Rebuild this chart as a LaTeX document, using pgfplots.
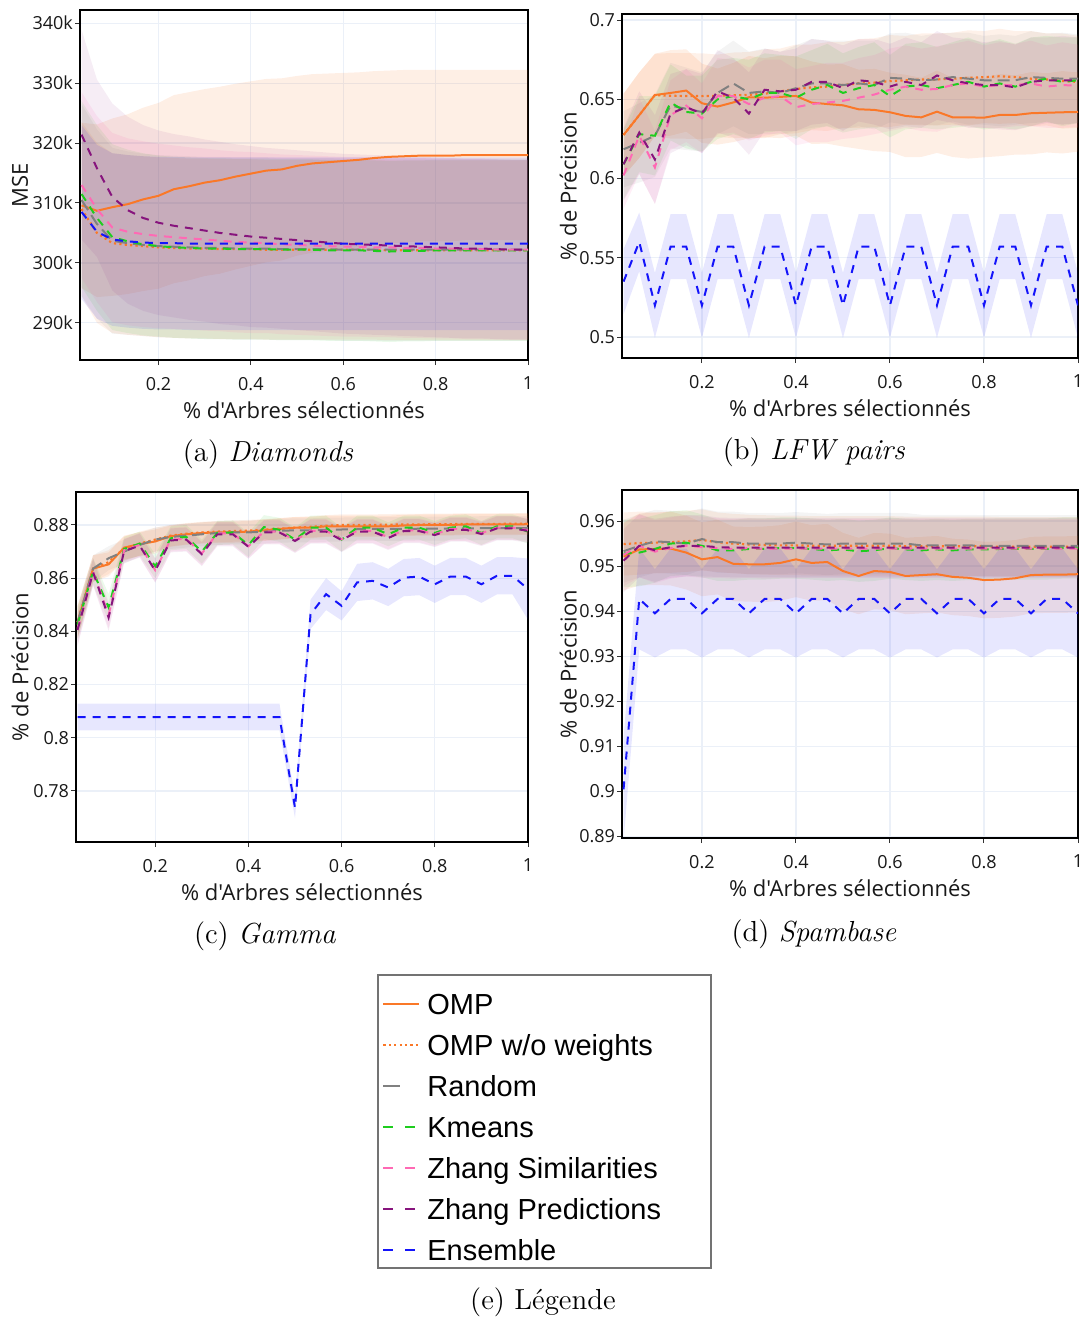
\documentclass[border=0pt]{standalone}
\usepackage{fontspec}
\usepackage{pgfplots}
\usepackage{pgfplotstable}
\pgfplotsset{compat=1.18}
\usepgfplotslibrary{fillbetween}
\newfontfamily\osans{Open Sans}
\newfontfamily\lsans{Liberation Sans}

\definecolor{cOmp}{RGB}{250,120,40}
\definecolor{cRnd}{RGB}{128,128,128}
\definecolor{cKm}{RGB}{30,205,30}
\definecolor{cZs}{RGB}{255,105,180}
\definecolor{cZp}{RGB}{135,20,125}
\definecolor{cEns}{RGB}{20,20,250}
\definecolor{gridc}{RGB}{235,240,248}

% Diamonds (MSE, en milliers)
\pgfplotstableread{
x omp somp ompw sompw rnd srnd km skm zs szs zp szp ens sens
0.0333 309.6 13.8 309.0 14.5 310.5 16.0 311.5 15.5 313.0 15.5 321.4 17.5 308.5 14.5
0.0667 308.7 14.4 305.0 15.0 306.5 15.8 307.5 15.5 309.0 15.5 315.8 14.8 305.2 14.5
0.1    309.3 14.8 303.3 15.0 303.7 15.5 304.3 15.5 305.9 15.8 311.0 15.6 303.9 14.4
0.1333 309.8 15.0 303.0 15.0 303.3 15.3 303.6 15.3 305.2 15.6 308.8 15.6 303.6 14.4
0.1667 310.6 15.3 302.8 15.0 303.0 15.2 303.1 15.2 304.8 15.5 307.5 15.5 303.4 14.4
0.2    311.2 15.5 302.6 15.0 302.8 15.2 302.8 15.1 304.5 15.4 306.7 15.4 303.3 14.4
0.2333 312.3 15.7 302.5 15.0 302.7 15.2 302.6 15.1 304.3 15.3 306.2 15.3 303.3 14.4
0.2667 312.8 15.7 302.4 15.0 302.6 15.2 302.5 15.1 304.1 15.2 305.8 15.3 303.2 14.4
0.3    313.4 15.6 302.4 15.0 302.5 15.2 302.4 15.1 303.9 15.2 305.4 15.2 303.2 14.4
0.3333 313.8 15.6 302.3 15.0 302.5 15.2 302.4 15.1 303.7 15.1 305.0 15.2 303.2 14.4
0.3667 314.4 15.5 302.3 15.0 302.4 15.2 302.3 15.1 303.5 15.1 304.7 15.1 303.2 14.4
0.4    314.9 15.4 302.3 15.0 302.4 15.2 302.3 15.1 303.4 15.1 304.4 15.1 303.2 14.4
0.4333 315.4 15.3 302.2 15.0 302.4 15.2 302.3 15.1 303.3 15.0 304.2 15.0 303.2 14.4
0.4667 315.6 15.2 302.2 15.0 302.3 15.2 302.2 15.1 303.1 15.0 304.0 15.0 303.2 14.4
0.5    316.2 15.0 302.2 15.0 302.3 15.2 302.2 15.1 303.0 15.0 303.8 15.0 303.2 14.4
0.5333 316.6 14.9 302.2 15.0 302.3 15.2 302.2 15.1 302.9 15.0 303.6 15.0 303.2 14.4
0.5667 316.8 14.8 302.2 15.0 302.3 15.2 302.1 15.1 302.8 15.0 303.4 15.0 303.2 14.4
0.6    317.0 14.7 302.2 15.0 302.2 15.2 302.1 15.1 302.7 15.0 303.2 15.0 303.2 14.4
0.6333 317.2 14.6 302.2 15.0 302.2 15.2 302.1 15.1 302.7 15.0 303.1 15.0 303.2 14.4
0.6667 317.5 14.5 302.2 15.0 302.2 15.2 302.0 15.1 302.6 15.0 303.0 15.0 303.2 14.4
0.7    317.7 14.4 302.1 15.0 302.2 15.2 301.9 15.1 302.6 15.0 302.9 15.0 303.2 14.4
0.7333 317.8 14.4 302.1 15.0 302.2 15.2 302.0 15.1 302.5 15.0 302.8 15.0 303.2 14.4
0.7667 317.9 14.3 302.1 15.0 302.2 15.2 302.0 15.1 302.5 15.0 302.7 15.0 303.2 14.4
0.8    317.9 14.3 302.1 15.0 302.2 15.2 302.1 15.1 302.4 15.0 302.6 15.0 303.2 14.4
0.8333 317.9 14.3 302.1 15.0 302.2 15.2 302.1 15.1 302.4 15.0 302.5 15.0 303.2 14.4
0.8667 318.0 14.2 302.1 15.0 302.2 15.2 302.1 15.1 302.3 15.0 302.4 15.0 303.2 14.4
0.9    318.0 14.2 302.1 15.0 302.2 15.2 302.1 15.1 302.3 15.0 302.4 15.0 303.2 14.4
0.9333 318.0 14.2 302.1 15.0 302.2 15.2 302.1 15.1 302.2 15.0 302.3 15.0 303.2 14.4
0.9667 318.0 14.2 302.1 15.0 302.2 15.2 302.1 15.1 302.2 15.0 302.2 15.0 303.2 14.4
1.0    318.0 14.2 302.1 15.0 302.2 15.2 302.1 15.1 302.2 15.0 302.2 15.0 303.2 14.4
}\tabA

% LFW pairs
\pgfplotstableread{
x omp somp ompw sompw rnd srnd km skm zs szs zp szp ens sens
0.0333 0.6275 0.026 0.6275 0.026 0.6185 0.024 0.6090 0.022 0.6020 0.021 0.6090 0.023 0.535 0.0205
0.0667 0.6400 0.027 0.6400 0.027 0.6225 0.025 0.6280 0.024 0.6270 0.024 0.6290 0.026 0.560 0.0185
0.1    0.6527 0.026 0.6527 0.026 0.6270 0.026 0.6270 0.025 0.6070 0.023 0.6120 0.028 0.520 0.0205
0.1333 0.6540 0.027 0.6522 0.027 0.6460 0.027 0.6480 0.024 0.6400 0.022 0.6410 0.025 0.557 0.0205
0.1667 0.6555 0.026 0.6521 0.027 0.6440 0.026 0.6420 0.023 0.6460 0.023 0.6450 0.024 0.557 0.0205
0.2    0.6475 0.025 0.6520 0.027 0.6420 0.025 0.6410 0.024 0.6380 0.022 0.6410 0.025 0.520 0.0205
0.2333 0.6454 0.024 0.6522 0.026 0.6540 0.026 0.6500 0.025 0.6520 0.024 0.6550 0.026 0.557 0.0205
0.2667 0.6480 0.025 0.6525 0.027 0.6600 0.027 0.6520 0.024 0.6520 0.023 0.6510 0.025 0.557 0.0205
0.3    0.6513 0.026 0.6528 0.027 0.6540 0.026 0.6500 0.025 0.6470 0.023 0.6410 0.026 0.520 0.0205
0.3333 0.6510 0.025 0.6535 0.028 0.6550 0.027 0.6540 0.025 0.6510 0.024 0.6560 0.026 0.557 0.0205
0.3667 0.6515 0.026 0.6550 0.027 0.6540 0.026 0.6540 0.024 0.6520 0.023 0.6550 0.025 0.557 0.0205
0.4    0.6521 0.025 0.6565 0.028 0.6570 0.027 0.6510 0.026 0.6450 0.024 0.6560 0.026 0.520 0.0205
0.4333 0.6479 0.026 0.6575 0.027 0.6600 0.028 0.6560 0.025 0.6470 0.024 0.6610 0.027 0.557 0.0205
0.4667 0.6470 0.025 0.6580 0.028 0.6600 0.027 0.6590 0.026 0.6480 0.025 0.6610 0.026 0.557 0.0205
0.5    0.6462 0.026 0.6590 0.027 0.6590 0.028 0.6540 0.025 0.6490 0.024 0.6570 0.027 0.520 0.0205
0.5333 0.6437 0.025 0.6600 0.028 0.6600 0.027 0.6570 0.026 0.6510 0.025 0.6620 0.026 0.557 0.0205
0.5667 0.6433 0.026 0.6605 0.028 0.6590 0.028 0.6590 0.027 0.6530 0.025 0.6610 0.027 0.557 0.0205
0.6    0.6418 0.025 0.6615 0.029 0.6635 0.028 0.6520 0.026 0.6560 0.026 0.6580 0.027 0.520 0.0205
0.6333 0.6395 0.026 0.6620 0.028 0.6630 0.029 0.6580 0.027 0.6580 0.026 0.6610 0.028 0.557 0.0205
0.6667 0.6386 0.025 0.6625 0.029 0.6620 0.028 0.6590 0.027 0.6560 0.026 0.6590 0.027 0.557 0.0205
0.7    0.6422 0.026 0.6625 0.029 0.6625 0.029 0.6570 0.026 0.6565 0.027 0.6650 0.028 0.520 0.0205
0.7333 0.6386 0.025 0.6630 0.029 0.6640 0.028 0.6590 0.027 0.6590 0.026 0.6620 0.027 0.557 0.0205
0.7667 0.6386 0.026 0.6635 0.030 0.6630 0.029 0.6610 0.028 0.6600 0.027 0.6600 0.028 0.557 0.0205
0.8    0.6384 0.025 0.6640 0.029 0.6620 0.028 0.6580 0.027 0.6580 0.026 0.6590 0.027 0.520 0.0205
0.8333 0.6401 0.026 0.6645 0.030 0.6620 0.029 0.6600 0.028 0.6590 0.027 0.6590 0.028 0.557 0.0205
0.8667 0.6401 0.025 0.6640 0.029 0.6620 0.028 0.6580 0.027 0.6590 0.026 0.6575 0.027 0.557 0.0205
0.9    0.6412 0.026 0.6630 0.030 0.6640 0.029 0.6610 0.028 0.6600 0.027 0.6610 0.028 0.520 0.0205
0.9333 0.6415 0.025 0.6625 0.029 0.6635 0.028 0.6630 0.027 0.6580 0.026 0.6620 0.027 0.557 0.0205
0.9667 0.6418 0.026 0.6615 0.030 0.6630 0.029 0.6610 0.028 0.6590 0.027 0.6620 0.028 0.557 0.0205
1.0    0.6420 0.025 0.6610 0.029 0.6630 0.028 0.6620 0.027 0.6585 0.026 0.6620 0.027 0.520 0.0205
}\tabB

% Gamma
\pgfplotstableread{
x omp somp ompw sompw rnd srnd km skm zs szs zp szp ens sens
0.0333 0.8434 0.006 0.8434 0.006 0.8434 0.006 0.8425 0.006 0.8410 0.006 0.8405 0.006 0.8078 0.005
0.0667 0.8636 0.005 0.8636 0.005 0.8636 0.005 0.8625 0.005 0.8625 0.005 0.8622 0.005 0.8078 0.005
0.1    0.8652 0.0045 0.8660 0.0045 0.8675 0.0045 0.8490 0.005 0.8462 0.005 0.8452 0.005 0.8078 0.005
0.1333 0.8715 0.0045 0.8712 0.0045 0.8700 0.0045 0.8710 0.0045 0.8705 0.0045 0.8702 0.0045 0.8078 0.005
0.1667 0.8728 0.0045 0.8730 0.0045 0.8725 0.0045 0.8730 0.0045 0.8725 0.0045 0.8722 0.0045 0.8078 0.005
0.2    0.8738 0.0045 0.8745 0.0045 0.8745 0.0045 0.8645 0.0045 0.8630 0.0045 0.8628 0.0045 0.8078 0.005
0.2333 0.8758 0.004 0.8760 0.004 0.8755 0.0045 0.8750 0.0045 0.8745 0.0045 0.8742 0.0045 0.8078 0.005
0.2667 0.8765 0.004 0.8767 0.004 0.8760 0.0045 0.8755 0.0045 0.8748 0.0045 0.8745 0.0045 0.8078 0.005
0.3    0.8770 0.004 0.8772 0.004 0.8765 0.0045 0.8700 0.0045 0.8693 0.0045 0.8690 0.0045 0.8078 0.005
0.3333 0.8772 0.004 0.8775 0.004 0.8770 0.0045 0.8770 0.0045 0.8768 0.0045 0.8765 0.0045 0.8078 0.005
0.3667 0.8773 0.004 0.8777 0.004 0.8772 0.0045 0.8772 0.0045 0.8768 0.0045 0.8765 0.0045 0.8078 0.005
0.4    0.8775 0.004 0.8779 0.004 0.8772 0.0045 0.8725 0.0045 0.8720 0.0045 0.8718 0.0045 0.8078 0.005
0.4333 0.8780 0.004 0.8782 0.004 0.8775 0.0045 0.8792 0.0045 0.8775 0.0045 0.8772 0.0045 0.8078 0.005
0.4667 0.8785 0.004 0.8786 0.004 0.8778 0.0045 0.8782 0.0045 0.8775 0.0045 0.8772 0.0045 0.8078 0.005
0.5    0.8790 0.004 0.8790 0.004 0.8780 0.0045 0.8745 0.0045 0.8742 0.0045 0.8740 0.0045 0.7737 0.004
0.5333 0.8790 0.004 0.8793 0.004 0.8780 0.0045 0.8790 0.0045 0.8778 0.0045 0.8775 0.0045 0.8464 0.0055
0.5667 0.8795 0.004 0.8797 0.004 0.8782 0.0045 0.8790 0.0045 0.8778 0.0045 0.8775 0.0045 0.8540 0.006
0.6    0.8795 0.004 0.8800 0.004 0.8783 0.0045 0.8745 0.0045 0.8746 0.0045 0.8743 0.0045 0.8496 0.0055
0.6333 0.8795 0.004 0.8800 0.004 0.8784 0.0045 0.8790 0.0045 0.8778 0.0045 0.8775 0.0045 0.8584 0.007
0.6667 0.8795 0.004 0.8800 0.004 0.8785 0.0045 0.8790 0.0045 0.8778 0.0045 0.8775 0.0045 0.8590 0.007
0.7    0.8795 0.004 0.8801 0.004 0.8785 0.0045 0.8765 0.0045 0.8754 0.0045 0.8751 0.0045 0.8565 0.007
0.7333 0.8798 0.004 0.8802 0.004 0.8785 0.0045 0.8790 0.0045 0.8780 0.0045 0.8777 0.0045 0.8602 0.007
0.7667 0.8800 0.004 0.8802 0.004 0.8786 0.0045 0.8790 0.0045 0.8780 0.0045 0.8777 0.0045 0.8606 0.007
0.8    0.8800 0.004 0.8803 0.004 0.8786 0.0045 0.8770 0.0045 0.8765 0.0045 0.8762 0.0045 0.8577 0.007
0.8333 0.8800 0.004 0.8803 0.004 0.8787 0.0045 0.8790 0.0045 0.8785 0.0045 0.8782 0.0045 0.8606 0.007
0.8667 0.8802 0.004 0.8804 0.004 0.8787 0.0045 0.8795 0.0045 0.8785 0.0045 0.8782 0.0045 0.8606 0.007
0.9    0.8802 0.004 0.8804 0.004 0.8788 0.0045 0.8770 0.0045 0.8769 0.0045 0.8766 0.0045 0.8577 0.007
0.9333 0.8802 0.004 0.8804 0.004 0.8788 0.0045 0.8795 0.0045 0.8790 0.0045 0.8787 0.0045 0.8609 0.007
0.9667 0.8802 0.004 0.8805 0.004 0.8788 0.0045 0.8795 0.0045 0.8790 0.0045 0.8787 0.0045 0.8609 0.007
1.0    0.8803 0.004 0.8805 0.004 0.8788 0.0045 0.8775 0.0045 0.8781 0.0045 0.8778 0.0045 0.8559 0.0115
}\tabC

% Spambase
\pgfplotstableread{
x omp somp ompw sompw rnd srnd km skm zs szs zp szp ens sens
0.0333 0.9521 0.0075 0.9549 0.0070 0.9533 0.0070 0.9528 0.0075 0.9525 0.0070 0.9512 0.0070 0.9004 0.0115
0.0667 0.9537 0.0080 0.9551 0.0070 0.9545 0.0070 0.9530 0.0075 0.9545 0.0070 0.9545 0.0070 0.9427 0.0112
0.1    0.9538 0.0080 0.9552 0.0068 0.9555 0.0070 0.9538 0.0075 0.9532 0.0070 0.9535 0.0070 0.9395 0.0098
0.1333 0.9539 0.0082 0.9553 0.0068 0.9553 0.0070 0.9550 0.0072 0.9540 0.0068 0.9542 0.0068 0.9427 0.0112
0.1667 0.9530 0.0082 0.9555 0.0068 0.9550 0.0070 0.9552 0.0072 0.9545 0.0068 0.9545 0.0068 0.9427 0.0112
0.2    0.9515 0.0082 0.9558 0.0068 0.9560 0.0068 0.9545 0.0070 0.9542 0.0068 0.9545 0.0068 0.9395 0.0098
0.2333 0.9520 0.0083 0.9553 0.0066 0.9553 0.0068 0.9535 0.0068 0.9540 0.0066 0.9542 0.0066 0.9427 0.0112
0.2667 0.9505 0.0083 0.9550 0.0066 0.9553 0.0068 0.9535 0.0068 0.9538 0.0066 0.9541 0.0066 0.9427 0.0112
0.3    0.9504 0.0083 0.9548 0.0066 0.9550 0.0068 0.9538 0.0068 0.9540 0.0066 0.9541 0.0066 0.9395 0.0098
0.3333 0.9504 0.0084 0.9547 0.0066 0.9550 0.0068 0.9538 0.0068 0.9538 0.0066 0.9541 0.0066 0.9427 0.0112
0.3667 0.9507 0.0084 0.9546 0.0066 0.9550 0.0068 0.9540 0.0068 0.9539 0.0066 0.9541 0.0066 0.9427 0.0112
0.4    0.9515 0.0084 0.9546 0.0066 0.9552 0.0068 0.9540 0.0068 0.9539 0.0066 0.9541 0.0066 0.9395 0.0098
0.4333 0.9507 0.0084 0.9545 0.0066 0.9550 0.0068 0.9538 0.0068 0.9539 0.0066 0.9541 0.0066 0.9427 0.0112
0.4667 0.9509 0.0085 0.9545 0.0066 0.9548 0.0068 0.9535 0.0068 0.9539 0.0066 0.9541 0.0066 0.9427 0.0112
0.5    0.9489 0.0085 0.9545 0.0066 0.9550 0.0068 0.9537 0.0068 0.9539 0.0066 0.9541 0.0066 0.9395 0.0098
0.5333 0.9478 0.0085 0.9545 0.0066 0.9550 0.0068 0.9533 0.0068 0.9539 0.0066 0.9541 0.0066 0.9427 0.0112
0.5667 0.9489 0.0085 0.9545 0.0066 0.9550 0.0068 0.9535 0.0068 0.9539 0.0066 0.9541 0.0066 0.9427 0.0112
0.6    0.9487 0.0085 0.9545 0.0066 0.9550 0.0068 0.9540 0.0068 0.9539 0.0066 0.9541 0.0066 0.9395 0.0098
0.6333 0.9478 0.0085 0.9544 0.0066 0.9550 0.0068 0.9537 0.0068 0.9539 0.0066 0.9541 0.0066 0.9427 0.0112
0.6667 0.9480 0.0085 0.9544 0.0066 0.9546 0.0068 0.9535 0.0068 0.9539 0.0066 0.9541 0.0066 0.9427 0.0112
0.7    0.9482 0.0085 0.9544 0.0066 0.9546 0.0068 0.9537 0.0068 0.9539 0.0066 0.9541 0.0066 0.9395 0.0098
0.7333 0.9476 0.0085 0.9544 0.0066 0.9546 0.0068 0.9535 0.0068 0.9539 0.0066 0.9541 0.0066 0.9427 0.0112
0.7667 0.9474 0.0085 0.9544 0.0066 0.9546 0.0068 0.9537 0.0068 0.9539 0.0066 0.9541 0.0066 0.9427 0.0112
0.8    0.9469 0.0085 0.9544 0.0066 0.9545 0.0068 0.9537 0.0068 0.9539 0.0066 0.9541 0.0066 0.9395 0.0098
0.8333 0.9470 0.0085 0.9543 0.0066 0.9545 0.0068 0.9538 0.0068 0.9539 0.0066 0.9541 0.0066 0.9427 0.0112
0.8667 0.9473 0.0085 0.9543 0.0066 0.9545 0.0068 0.9538 0.0068 0.9539 0.0066 0.9541 0.0066 0.9427 0.0112
0.9    0.9480 0.0085 0.9543 0.0066 0.9545 0.0068 0.9538 0.0068 0.9539 0.0066 0.9541 0.0066 0.9395 0.0098
0.9333 0.9481 0.0085 0.9543 0.0066 0.9545 0.0068 0.9538 0.0068 0.9539 0.0066 0.9541 0.0066 0.9427 0.0112
0.9667 0.9481 0.0085 0.9543 0.0066 0.9545 0.0068 0.9540 0.0068 0.9539 0.0066 0.9541 0.0066 0.9427 0.0112
1.0    0.9482 0.0085 0.9543 0.0066 0.9545 0.0068 0.9540 0.0068 0.9539 0.0066 0.9541 0.0066 0.9395 0.0098
}\tabD

\pgfplotsset{
  s omp/.style={cOmp, line width=1pt},
  s ompw/.style={cOmp, line width=1.1pt, dash pattern=on 1.1pt off 1.6pt},
  s rnd/.style={cRnd, line width=1pt, dash pattern=on 6pt off 3pt},
  s km/.style={cKm, line width=1pt, dash pattern=on 4pt off 3.5pt},
  s zs/.style={cZs, line width=1pt, dash pattern=on 4pt off 3.5pt},
  s zp/.style={cZp, line width=1pt, dash pattern=on 4pt off 3.5pt},
  s ens/.style={cEns, line width=1pt, dash pattern=on 4pt off 3.5pt},
  panel/.style={
    scale only axis, anchor=south west,
    xmin=0.03, xmax=1, xtick={0.2,0.4,0.6,0.8,1},
    axis line style={black, line width=0.8pt},
    tick align=outside, tick pos=left, major tick length=2.5pt,
    tick style={black!80, line width=0.5pt},
    grid=major, grid style={gridc, line width=0.6pt},
    ticklabel style={font=\osans\fontsize{9}{10}\selectfont, text=black!90},
    xticklabel style={yshift=-2.5pt},
    yticklabel style={xshift=2.5pt},
    /pgf/number format/assume math mode=true,
    scaled ticks=false,
    label style={font=\osans\fontsize{11}{13}\selectfont, text=black!90},
    xlabel={\% d'Arbres sélectionnés},
    xlabel style={at={(axis description cs:0.5,0)}, anchor=center, yshift=-25pt},
  },
}

% bande moyenne +/- ecart : table, colonne, colonne d'ecart, couleur, prefixe, opacite
\newcommand{\band}[6]{%
  \addplot[draw=none, forget plot, name path=#5#2u] table[x=x, y expr=\thisrow{#2}+\thisrow{#3}] {#1};
  \addplot[draw=none, forget plot, name path=#5#2l] table[x=x, y expr=\thisrow{#2}-\thisrow{#3}] {#1};
  \addplot[fill=#4, fill opacity=#6, draw=none, forget plot] fill between[of=#5#2u and #5#2l];
}
\newcommand{\allbands}[2]{%
  \band{#1}{omp}{somp}{cOmp}{#2}{0.12}
  \band{#1}{ompw}{sompw}{cOmp}{#2}{0.10}
  \band{#1}{rnd}{srnd}{cRnd}{#2}{0.09}
  \band{#1}{km}{skm}{cKm}{#2}{0.09}
  \band{#1}{zs}{szs}{cZs}{#2}{0.11}
  \band{#1}{zp}{szp}{cZp}{#2}{0.075}
  \band{#1}{ens}{sens}{cEns}{#2}{0.10}
}
\newcommand{\alllines}[1]{%
  \addplot[s omp] table[x=x, y=omp] {#1};
  \addplot[s ompw] table[x=x, y=ompw] {#1};
  \addplot[s rnd] table[x=x, y=rnd] {#1};
  \addplot[s km] table[x=x, y=km] {#1};
  \addplot[s zs] table[x=x, y=zs] {#1};
  \addplot[s zp] table[x=x, y=zp] {#1};
  \addplot[s ens] table[x=x, y=ens] {#1};
}

\begin{document}
\begin{tikzpicture}

% (a) Diamonds
\begin{axis}[panel, at={(40pt,-180pt)}, width=224pt, height=175pt,
  ymin=283.8, ymax=342.2, ytick={290,300,310,320,330,340},
  yticklabel={\pgfmathprintnumber{\tick}k},
  ylabel={MSE}, ylabel style={at={(axis description cs:-0.134,0.5)}, anchor=center}]
\allbands{\tabA}{a}
\alllines{\tabA}
\end{axis}

% (b) LFW pairs
\begin{axis}[panel, at={(311pt,-179pt)}, width=228pt, height=172pt,
  ymin=0.4868, ymax=0.7038, ytick={0.5,0.55,0.6,0.65,0.7},
  ylabel={\% de Précision}, ylabel style={at={(axis description cs:-0.118,0.5)}, anchor=center}]
\allbands{\tabB}{b}
\alllines{\tabB}
\end{axis}

% (c) Gamma
\begin{axis}[panel, at={(38pt,-421pt)}, width=226pt, height=175pt,
  ymin=0.7608, ymax=0.8924, ytick={0.78,0.8,0.82,0.84,0.86,0.88},
  ylabel={\% de Précision}, ylabel style={at={(axis description cs:-0.124,0.5)}, anchor=center}]
\allbands{\tabC}{c}
\alllines{\tabC}
\end{axis}

% (d) Spambase
\begin{axis}[panel, at={(311pt,-419pt)}, width=228pt, height=174pt,
  ymin=0.8896, ymax=0.9669, ytick={0.89,0.9,0.91,0.92,0.93,0.94,0.95,0.96},
  ylabel={\% de Précision}, ylabel style={at={(axis description cs:-0.118,0.5)}, anchor=center}]
\allbands{\tabD}{d}
\alllines{\tabD}
\end{axis}

% légende
\draw[black!55, line width=0.7pt] (189pt,-487.5pt) rectangle (355.5pt,-634pt);
\begin{axis}[at={(189pt,-487.5pt)}, anchor=north west, scale only axis,
  width=166pt, height=146pt, hide axis, xmin=0, xmax=1, ymin=0, ymax=1,
  legend style={at={(axis description cs:0,1)}, anchor=north west, yshift=-5.5pt,
    draw=none, fill=none, font=\lsans\fontsize{14.5}{16}\selectfont,
    inner xsep=2pt, inner ysep=2pt, row sep=6.5pt,
    nodes={inner sep=1pt, text height=11pt, text depth=1pt},
    /tikz/every odd column/.append style={column sep=2.5pt}},
  legend cell align=left,
  legend image code/.code={\draw[#1] (0pt,0pt) -- (18pt,0pt);},
]
\addplot[draw=none, forget plot] coordinates {(0,0) (1,1)};
\addlegendimage{cOmp, line width=1pt}
\addlegendentry{OMP}
\addlegendimage{cOmp, line width=1pt, dash pattern=on 1.1pt off 1.6pt}
\addlegendentry{OMP w/o weights}
\addlegendimage{cRnd, line width=1pt, dash pattern=on 8.5pt off 20pt}
\addlegendentry{Random}
\addlegendimage{cKm, line width=1pt, dash pattern=on 5pt off 6pt}
\addlegendentry{Kmeans}
\addlegendimage{cZs, line width=1pt, dash pattern=on 5pt off 6pt}
\addlegendentry{Zhang Similarities}
\addlegendimage{cZp, line width=1pt, dash pattern=on 5pt off 6pt}
\addlegendentry{Zhang Predictions}
\addlegendimage{cEns, line width=1pt, dash pattern=on 5pt off 6pt}
\addlegendentry{Ensemble}
\end{axis}

% sous-titres
\node[font=\fontsize{14.5}{17}\selectfont] at (134pt,-227pt) {(a) \textit{Diamonds}};
\node[font=\fontsize{14.5}{17}\selectfont] at (407pt,-226pt) {(b) \textit{LFW pairs}};
\node[font=\fontsize{14.5}{17}\selectfont] at (132.5pt,-468pt) {(c) \textit{Gamma}};
\node[font=\fontsize{14.5}{17}\selectfont] at (407pt,-467pt) {(d) \textit{Spambase}};
\node[font=\fontsize{14.5}{17}\selectfont] at (271.5pt,-651pt) {(e) Légende};

\pgfresetboundingbox
\useasboundingbox (0,0) rectangle (540pt,-661pt);
\end{tikzpicture}
\end{document}
